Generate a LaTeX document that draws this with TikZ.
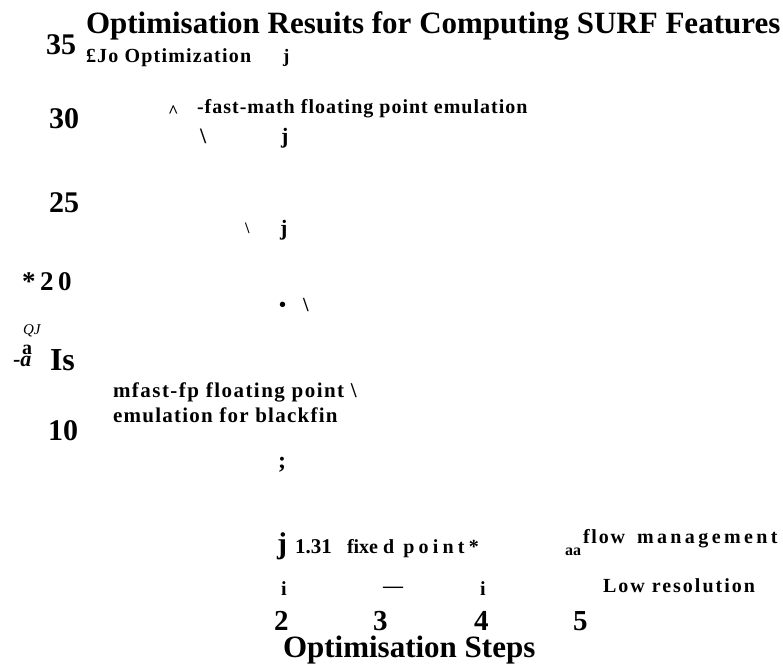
\documentclass[tikz,border=0pt]{standalone}
\usepackage{fontspec}
\setmainfont{Liberation Serif}
\newcommand{\fs}[1]{\fontsize{#1}{#1}\selectfont\bfseries}
\newcommand{\lsp}[2]{{\addfontfeatures{LetterSpace=#1}#2}}
\begin{document}
\begin{tikzpicture}[x=1pt,y=-1pt,
  t/.style={inner sep=0pt,outer sep=0pt,anchor=base west},
  num/.style={t,font=\fs{29},text depth=0pt,text height=20pt}]
\useasboundingbox (0,0) rectangle (783,664);
% title
\node[t,font=\fs{31}] (title) at (86,33) {Optimisation Resuits for Computing SURF Features};
% axis numbers
\node[t,font=\fs{30}] (y35) at (46,54) {35};
\node[t,font=\fs{30}] (y30) at (49,128) {30};
\node[t,font=\fs{30}] (y25) at (49,212) {25};
\node[t,font=\fs{27}] (y20) at (22,290) {\lsp{17}{*20}};
\node[t,font=\fs{15}\mdseries\itshape] (qj) at (23,334) {QJ};
\node[t,font=\fs{20},text depth=0pt] (ya) at (22,354) {a};
\node[t,font=\fs{22},text height=10pt] (yaa) at (13,366) {-\textit{a}};
\node[t,font=\fs{32}] (yIs) at (50,370) {Is};
\node[t,font=\fs{30}] (y10) at (48,440) {10};
% labels
\node[t,font=\fs{20}] (noopt) at (86,62) {\lsp{6}{£Jo Optimization}};
\node[t,font=\fs{19}] (j1) at (283,62) {j};
\node[t,font=\fs{18}] (caret) at (168,117) {\textasciicircum};
\node[t,font=\fs{20}] (fastmath) at (197,113) {\lsp{5}{-fast-math floating point emulation}};
\node[t,font=\fs{22}] (bs1) at (200,143) {\textbackslash};
\node[t,font=\fs{22}] (j2) at (281,143) {j};
\node[t,font=\fs{16}] (bs2) at (245,233) {\textbackslash};
\node[t,font=\fs{22}] (j3) at (280,235) {j};
\node[t,font=\fs{20}] (dot) at (279,311) {•};
\node[t,font=\fs{20}] (bs3) at (303,311) {\textbackslash};
\node[t,font=\fs{21}] (mfast) at (113,397) {\lsp{7}{mfast-fp floating point \textbackslash}};
\node[t,font=\fs{21}] (emul) at (113,422) {\lsp{6}{emulation for blackfin}};
\node[t,font=\fs{24}] (semi) at (278,468) {;};
\node[t,font=\fs{30}] (j4) at (277,553) {j};
\node[t,font=\fs{21}] (fix) at (295,553) {1.31};
\node[t,font=\fs{20}] (fixe) at (347,553) {fixe};
\node[t,font=\fs{20}] (dpoint) at (383,553) {\lsp{21}{d point*}};
\node[t,font=\fs{16}] (aa) at (565,555) {aa};
\node[t,font=\fs{20}] (flow) at (583,543) {\lsp{9}{flow}};
\node[t,font=\fs{20}] (mgmt) at (637,543) {\lsp{17}{management}};
\node[t,font=\fs{20}] (i1) at (281,595) {i};
\node[t,font=\fs{20}] (dash) at (383,592) {—};
\node[t,font=\fs{20}] (i2) at (480,595) {i};
\node[t,font=\fs{20}] (lowres) at (603,592) {\lsp{10}{Low resolution}};
% x axis numbers
\node[num] (x2) at (274,630) {2};
\node[num] (x3) at (373,630) {3};
\node[num] (x4) at (474,630) {4};
\node[num] (x5) at (573,630) {5};
\node[t,font=\fs{31},text height=21pt] (xlabel) at (283,657) {Optimisation Steps};
\end{tikzpicture}
\end{document}
